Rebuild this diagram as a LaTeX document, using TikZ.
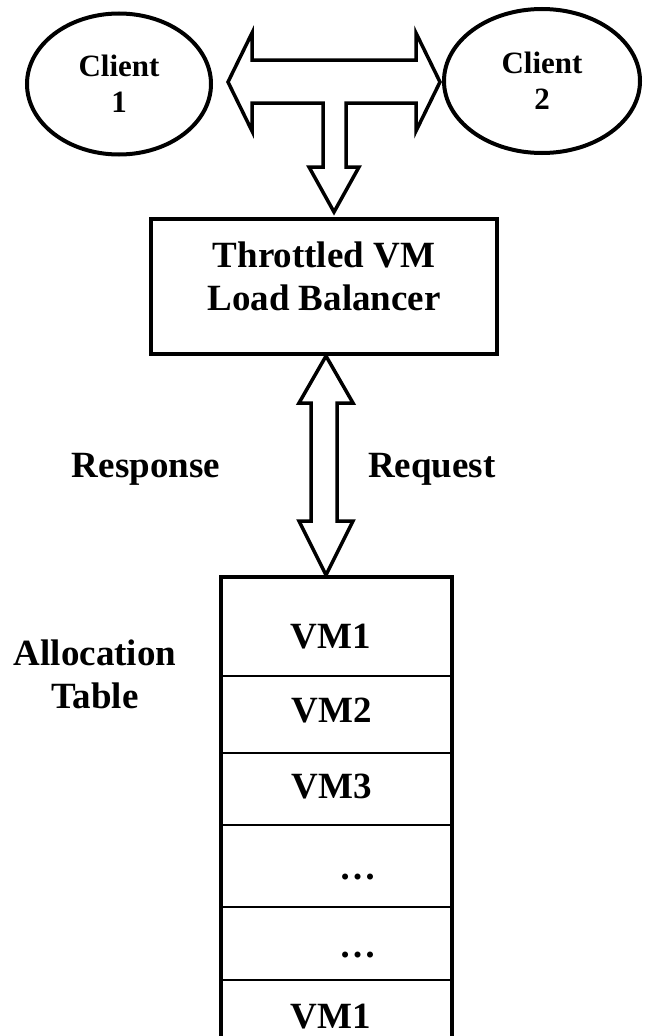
\documentclass[tikz,border=0pt]{standalone}
\usepackage{fontspec}
\setmainfont{Liberation Serif}
\usetikzlibrary{shapes.geometric}
\colorlet{linecol}{black}

\begin{document}
\begin{tikzpicture}[x=1pt, y=-1pt, font=\bfseries,
	    client/.style={ellipse, draw=linecol, line width=4pt, inner sep=0pt, align=center, font=\bfseries\fontsize{31}{36}\selectfont},
	    box/.style={rectangle, draw=linecol, line width=4pt, inner sep=0pt},
	    label/.style={anchor=base, font=\bfseries\fontsize{37}{42}\selectfont},
	    blockarrow/.style={draw=linecol, line width=3.5pt, line join=miter, fill=white},
	    row/.style={draw=linecol, line width=1.5pt}]
	    \useasboundingbox (0,0) rectangle (648,1036);

		% clients
		\node[client, minimum width=184, minimum height=141] (c1) at (119,84) {Client\\1};
		\node[client, minimum width=196, minimum height=144] (c2) at (542,81) {Client\\2};

		% load balancer
		\node[box, minimum width=346, minimum height=135] (lb) at (324,286.5) {};
		\node[label] (lb1) at (lb.center |- 0,267) {Throttled VM};
		\node[label] (lb2) at (lb.center |- 0,310) {Load Balancer};

		% T arrow between clients and balancer
		\draw[blockarrow] (228,82) -- (252,33) -- (252,60) -- (416,60) -- (416,33) -- (440,82)
		  -- (416,131) -- (416,103) -- (346,103) -- (346,167) -- (359,167) -- (334,212)
		  -- (309,167) -- (323,167) -- (323,103) -- (252,103) -- (252,131) -- cycle;

		% allocation table
		\node[box, minimum width=231, minimum height=470, anchor=north west] (tab) at (219,575) {};
		\foreach \y in {676,753,825,907,980}
		  \draw[row] (tab.west |- 0,\y) -- (452,\y);
		\node[label] (vm1) at (331,648) {VM1};
		\node[label] (vm2) at (332,722) {VM2};
		\node[label] (vm3) at (332,798) {VM3};
		\node[label] (dots1) at (358,879) {\dots};
		\node[label] (dots2) at (358,957) {\dots};
		\node[label] (vm4) at (331,1028) {VM1};

		% request / response arrow
		\draw[blockarrow] (lb.south -| 326,0) -- (353,403) -- (337,403) -- (337,521) -- (353,521)
		  -- (tab.north -| 326,0) -- (299,521) -- (311,521) -- (311,403) -- (299,403) -- cycle;

		\node[label] (resp) at (146,477) {Response};
		\node[label] (req) at (432,477) {Request};
		\node[label] (alloc1) at (95,665) {Allocation};
		\node[label] (alloc2) at (95,708) {Table};
	  \end{tikzpicture}
\end{document}
